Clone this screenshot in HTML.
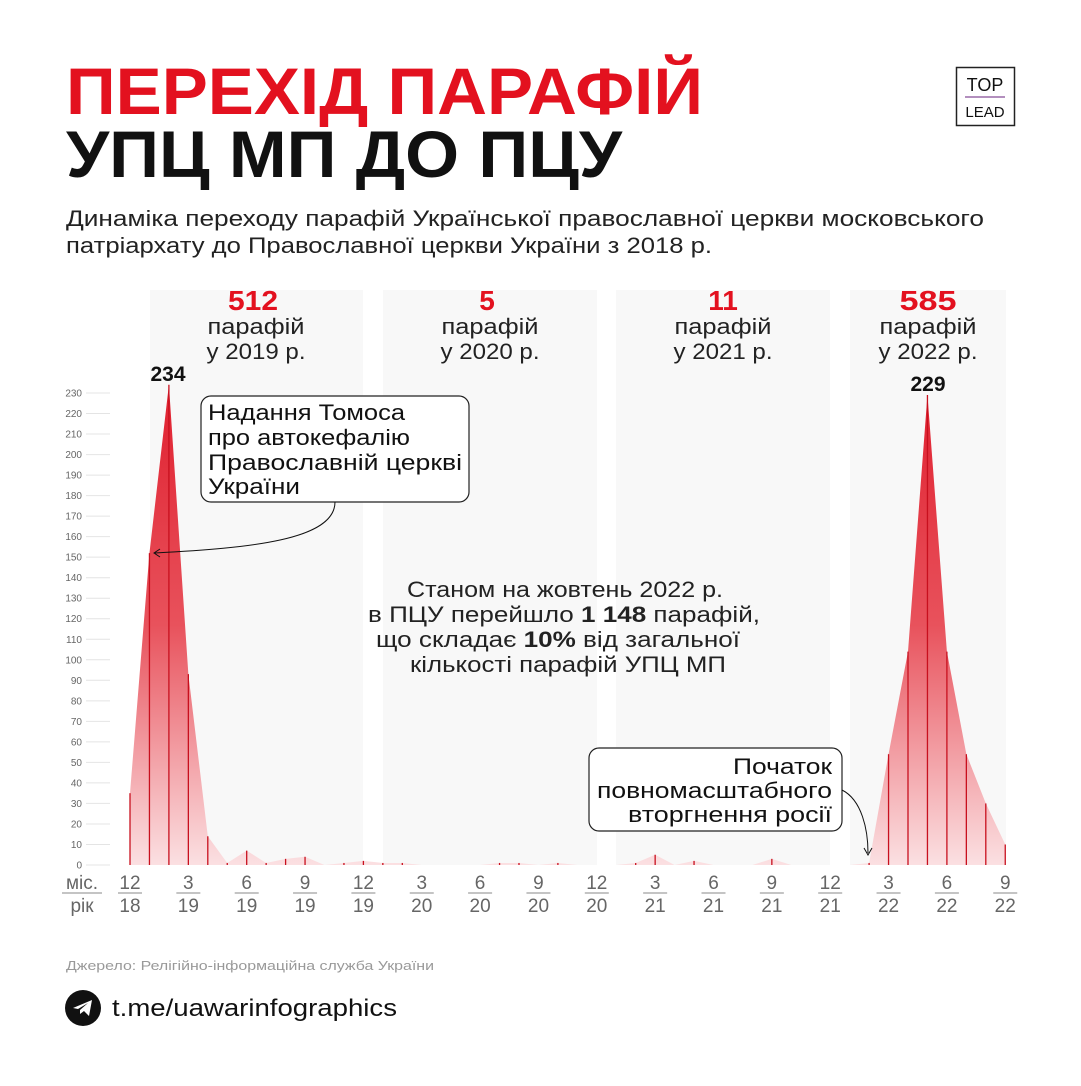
<!DOCTYPE html>
<html><head><meta charset="utf-8"><style>
body{margin:0;background:#fff;}
svg text{font-family:"Liberation Sans",sans-serif;}
</style></head><body>
<svg width="1081" height="1081" viewBox="0 0 1081 1081" xmlns="http://www.w3.org/2000/svg">
<defs>
<linearGradient id="g" x1="0" y1="385" x2="0" y2="865" gradientUnits="userSpaceOnUse">
<stop offset="0" stop-color="#e0202f"/><stop offset="0.5" stop-color="#e8525c"/><stop offset="1" stop-color="#fbe0e2"/>
</linearGradient>
</defs>
<rect width="1081" height="1081" fill="#fff"/>
<text x="66" y="114" font-size="66" font-weight="bold" fill="#e3111f" textLength="637" lengthAdjust="spacingAndGlyphs">ПЕРЕХІД ПАРАФІЙ</text>
<text x="66" y="177" font-size="66" font-weight="bold" fill="#111" textLength="556" lengthAdjust="spacingAndGlyphs">УПЦ МП ДО ПЦУ</text>
<rect x="956.5" y="67.5" width="58" height="58" fill="none" stroke="#222" stroke-width="1.5"/>
<text x="985" y="91" font-size="18" text-anchor="middle" fill="#111">TOP</text>
<line x1="965" y1="97" x2="1005" y2="97" stroke="#9a6aa8" stroke-width="1.5"/>
<text x="985" y="117" font-size="15" text-anchor="middle" fill="#111">LEAD</text>
<text x="66" y="226" font-size="22" fill="#222" textLength="918" lengthAdjust="spacingAndGlyphs">Динаміка переходу парафій Української православної церкви московського</text>
<text x="66" y="253" font-size="22" fill="#222" textLength="646" lengthAdjust="spacingAndGlyphs">патріархату до Православної церкви України з 2018 р.</text>
<g fill="#f8f8f8">
<rect x="150" y="290" width="213" height="575"/>
<rect x="383" y="290" width="214" height="575"/>
<rect x="616" y="290" width="214" height="575"/>
<rect x="850" y="290" width="156" height="575"/>
</g>
<g text-anchor="middle" font-size="22" fill="#222">
<text x="253" y="310" font-size="28" font-weight="bold" fill="#e3111f" textLength="50" lengthAdjust="spacingAndGlyphs">512</text>
<text x="256" y="334" textLength="97" lengthAdjust="spacingAndGlyphs">парафій</text><text x="256" y="359" textLength="99" lengthAdjust="spacingAndGlyphs">у 2019 р.</text>
<text x="487" y="310" font-size="28" font-weight="bold" fill="#e3111f">5</text>
<text x="490" y="334" textLength="97" lengthAdjust="spacingAndGlyphs">парафій</text><text x="490" y="359" textLength="99" lengthAdjust="spacingAndGlyphs">у 2020 р.</text>
<text x="723" y="310" font-size="28" font-weight="bold" fill="#e3111f">11</text>
<text x="723" y="334" textLength="97" lengthAdjust="spacingAndGlyphs">парафій</text><text x="723" y="359" textLength="99" lengthAdjust="spacingAndGlyphs">у 2021 р.</text>
<text x="928" y="310" font-size="28" font-weight="bold" fill="#e3111f" textLength="57" lengthAdjust="spacingAndGlyphs">585</text>
<text x="928" y="334" textLength="97" lengthAdjust="spacingAndGlyphs">парафій</text><text x="928" y="359" textLength="99" lengthAdjust="spacingAndGlyphs">у 2022 р.</text>
</g>
<g id="yaxis" font-size="10" fill="#666" text-anchor="end"></g>
<path id="area" fill="url(#g)"/>
<g id="bars" stroke="#c8101e" stroke-width="1.3"></g>
<text x="168" y="381" font-size="21" font-weight="bold" text-anchor="middle" fill="#111">234</text>
<text x="928" y="391" font-size="21" font-weight="bold" text-anchor="middle" fill="#111">229</text>
<rect x="201" y="396" width="268" height="106" rx="10" fill="#fff" stroke="#222" stroke-width="1.2"/>
<g font-size="22" fill="#111"><text x="208" y="420" textLength="197" lengthAdjust="spacingAndGlyphs">Надання Томоса</text><text x="208" y="445" textLength="202" lengthAdjust="spacingAndGlyphs">про автокефалію</text><text x="208" y="470" textLength="254" lengthAdjust="spacingAndGlyphs">Православній церкві</text><text x="208" y="494" textLength="92" lengthAdjust="spacingAndGlyphs">України</text></g>
<path d="M335 502 C335 540 250 548 155 553" fill="none" stroke="#111" stroke-width="1"/>
<path d="M160 549 L154 553 L160 557" fill="none" stroke="#111" stroke-width="1"/>
<rect x="589" y="748" width="253" height="83" rx="10" fill="#fff" stroke="#222" stroke-width="1.2"/>
<g font-size="22" fill="#111"><text x="733" y="774" textLength="99" lengthAdjust="spacingAndGlyphs">Початок</text><text x="597" y="798" textLength="235" lengthAdjust="spacingAndGlyphs">повномасштабного</text><text x="628" y="822" textLength="204" lengthAdjust="spacingAndGlyphs">вторгнення росії</text></g>
<path d="M842 790 C862 800 868 830 868 853" fill="none" stroke="#111" stroke-width="1"/>
<path d="M864 848 L868 855 L872 848" fill="none" stroke="#111" stroke-width="1"/>
<g font-size="22" fill="#222">
<text x="407" y="597" textLength="316" lengthAdjust="spacingAndGlyphs">Станом на жовтень 2022 р.</text>
<text x="368" y="622" textLength="392" lengthAdjust="spacingAndGlyphs">в ПЦУ перейшло <tspan font-weight="bold">1 148</tspan> парафій,</text>
<text x="376" y="647" textLength="364" lengthAdjust="spacingAndGlyphs">що складає <tspan font-weight="bold">10%</tspan> від загальної</text>
<text x="410" y="672" textLength="316" lengthAdjust="spacingAndGlyphs">кількості парафій УПЦ МП</text>
</g>
<g id="xaxis" font-size="19" fill="#666" text-anchor="middle"></g>
<text x="66" y="970" font-size="13" fill="#999" textLength="368" lengthAdjust="spacingAndGlyphs">Джерело: Релігійно-інформаційна служба України</text>
<circle cx="83" cy="1008" r="18" fill="#111"/>
<path d="M73 1008 L92 1000 L89 1016 L84 1011 L80 1014 L80 1010 L88 1003 L78 1009 Z" fill="#fff"/>
<text x="112" y="1016" font-size="24" fill="#111" textLength="285" lengthAdjust="spacingAndGlyphs">t.me/uawarinfographics</text>
</svg>
<script>
var NS="http://www.w3.org/2000/svg";
function el(t,a,p,txt){var e=document.createElementNS(NS,t);for(var k in a)e.setAttribute(k,a[k]);if(txt!==undefined)e.textContent=txt;document.getElementById(p).appendChild(e);return e;}
var y0=865,s=472/230;
for(var v=0;v<=230;v+=10){var y=y0-v*s;el("text",{x:82,y:y+3.5},"yaxis",v);el("line",{x1:86,y1:y,x2:110,y2:y,stroke:"#e4e4e4","stroke-width":1},"yaxis");}
var d=new Array(46).fill(0);
var vals={0:35,1:152,2:234,3:93,4:14,5:1,6:7,7:1,8:3,9:4,11:1,12:2,13:1,14:1,19:1,20:1,22:1,26:1,27:5,29:2,33:3,38:1,39:54,40:104,41:229,42:104,43:54,44:30,45:10};
for(var k in vals)d[k]=vals[k];
function X(i){return 130+i*19.45;}
var p="M"+X(0)+" "+y0;
for(var i=0;i<46;i++){p+=" L"+X(i)+" "+(y0-d[i]*s);}
p+=" L"+X(45)+" "+y0+" Z";
document.getElementById("area").setAttribute("d",p);
for(var i=0;i<46;i++){if(d[i]>0)el("line",{x1:X(i),y1:y0,x2:X(i),y2:y0-d[i]*s},"bars");}
el("text",{x:82,y:889},"xaxis","міс.");el("text",{x:82,y:912},"xaxis","рік");
el("line",{x1:62,y1:893,x2:102,y2:893,stroke:"#888","stroke-width":1},"xaxis");
var labs=[[0,"12","18"],[3,"3","19"],[6,"6","19"],[9,"9","19"],[12,"12","19"],[15,"3","20"],[18,"6","20"],[21,"9","20"],[24,"12","20"],[27,"3","21"],[30,"6","21"],[33,"9","21"],[36,"12","21"],[39,"3","22"],[42,"6","22"],[45,"9","22"]];
labs.forEach(function(l){var x=X(l[0]);el("text",{x:x,y:889},"xaxis",l[1]);el("text",{x:x,y:912},"xaxis",l[2]);el("line",{x1:x-12,y1:893,x2:x+12,y2:893,stroke:"#888","stroke-width":1},"xaxis");});
</script>
</body></html>
